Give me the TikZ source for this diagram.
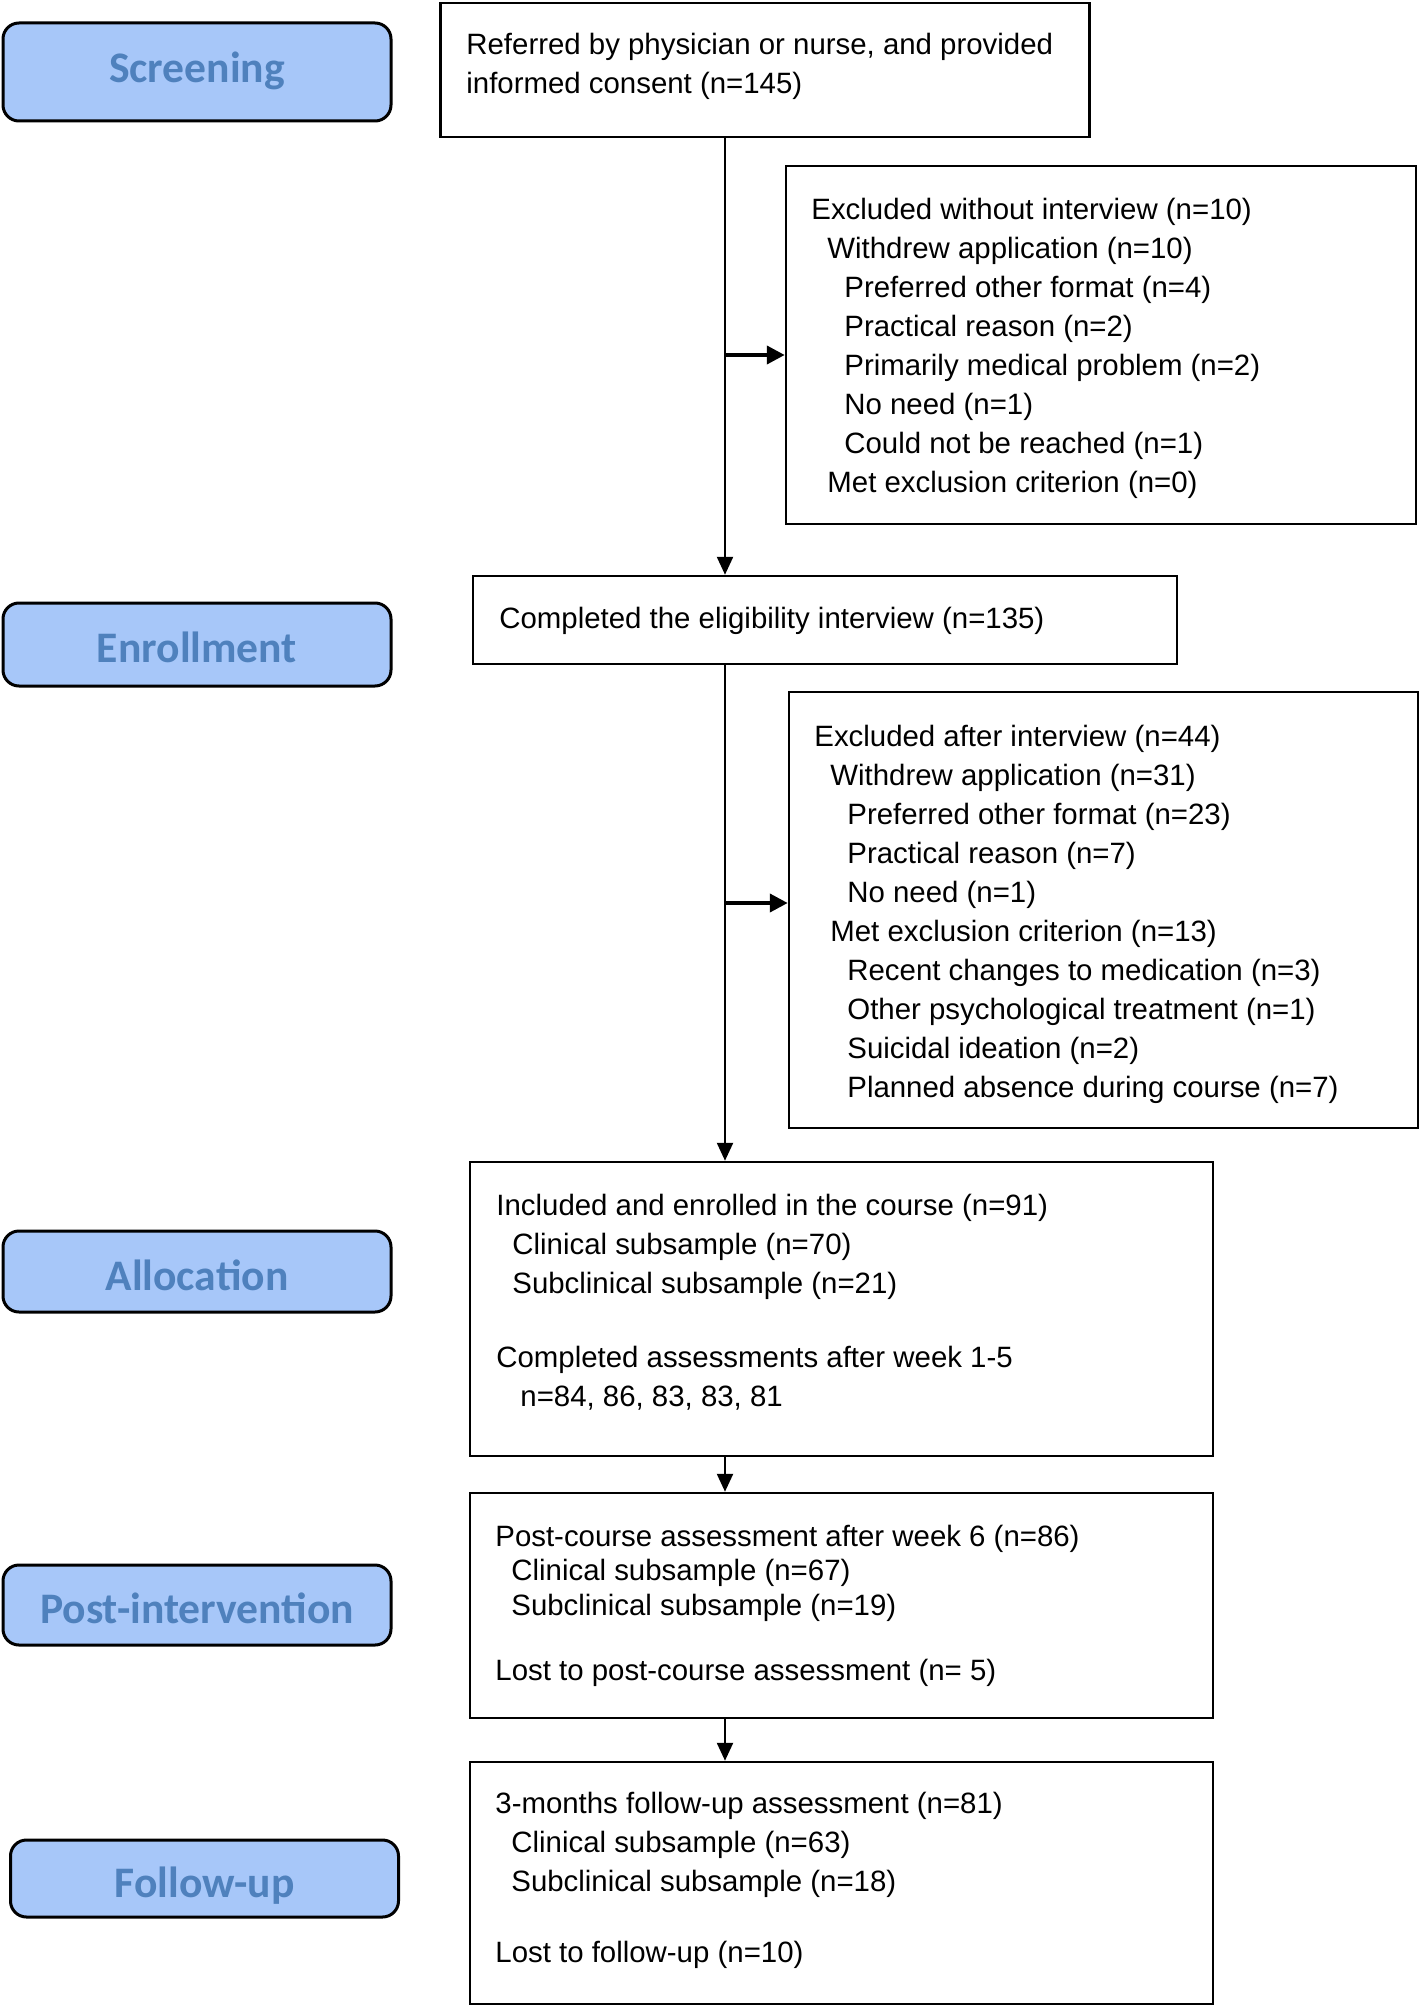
\documentclass[tikz,border=0pt]{standalone}
\usepackage{fontspec}
\setmainfont{Liberation Sans}
\newfontfamily\labfont{Carlito}
\usetikzlibrary{arrows.meta}
\definecolor{labfill}{RGB}{167,199,249}
\definecolor{labtext}{RGB}{79,129,189}
\newcommand{\lowerlab}[2]{\raisebox{-#1}[\height][\depth]{#2}}
\begin{document}
\begin{tikzpicture}[x=0.5pt,y=-0.5pt,
  box/.style={draw, line width=1.25pt, inner sep=0pt},
  lab/.style={draw, line width=1.5pt, rounded corners=8pt, fill=labfill, text=labtext,
    font=\labfont\bfseries\fontsize{21.8}{24}\selectfont, inner sep=0pt, minimum width=194pt},
  txt/.style={anchor=north west, align=left, inner sep=0pt, font=\fontsize{14.7}{19.5}\selectfont},
  arr/.style={line width=1.2pt, -{Triangle[length=9pt,width=8pt]}},
  sidearr/.style={line width=2pt, -{Triangle[length=9pt,width=9pt]}}]
\useasboundingbox (0,0) rectangle (1419,2006);

% stage labels
\node[lab, minimum height=49pt] (lscr) at (197,72) {\lowerlab{-0.6pt}{Screening}};
\node[lab, minimum height=41.5pt] (lenr) at (197,644.5) {\lowerlab{1.3pt}{Enrollment}};
\node[lab, minimum height=40.5pt] (lall) at (197,1271.5) {\lowerlab{1.9pt}{Allocation}};
\node[lab, minimum height=40pt] (lpost) at (197,1605) {\lowerlab{1.9pt}{Post-intervention}};
\node[lab, minimum height=38.5pt] (lfol) at (204.5,1878.5) {\lowerlab{3.6pt}{Follow-up}};

% boxes
\node[box, minimum width=324.5pt, minimum height=67pt] (b1) at (765,70) {};
\node[box, minimum width=315pt, minimum height=179pt] (ex1) at (1101,345) {};
\node[box, minimum width=352pt, minimum height=44pt] (b2) at (825,620) {};
\node[box, minimum width=314.5pt, minimum height=218pt] (ex2) at (1103.5,910) {};
\node[box, minimum width=371.5pt, minimum height=147pt] (b3) at (841.5,1309) {};
\node[box, minimum width=371.5pt, minimum height=112.5pt] (b4) at (841.5,1605.5) {};
\node[box, minimum width=371.5pt, minimum height=121pt] (b5) at (841.5,1883) {};

% texts
\node[txt] (t1) at (466,32.6) {Referred by physician or nurse, and provided\\informed consent (n=145)};
\node[txt] (te1) at (811,197.6) {Excluded without interview (n=10)\\
\hspace*{8pt}Withdrew application (n=10)\\
\hspace*{16.5pt}Preferred other format (n=4)\\
\hspace*{16.5pt}Practical reason (n=2)\\
\hspace*{16.5pt}Primarily medical problem (n=2)\\
\hspace*{16.5pt}No need (n=1)\\
\hspace*{16.5pt}Could not be reached (n=1)\\
\hspace*{8pt}Met exclusion criterion (n=0)};
\node[txt] (t2) at (499,607.1) {Completed the eligibility interview (n=135)};
\node[txt] (te2) at (814,724.6) {Excluded after interview (n=44)\\
\hspace*{8pt}Withdrew application (n=31)\\
\hspace*{16.5pt}Preferred other format (n=23)\\
\hspace*{16.5pt}Practical reason (n=7)\\
\hspace*{16.5pt}No need (n=1)\\
\hspace*{8pt}Met exclusion criterion (n=13)\\
\hspace*{16.5pt}Recent changes to medication (n=3)\\
\hspace*{16.5pt}Other psychological treatment (n=1)\\
\hspace*{16.5pt}Suicidal ideation (n=2)\\
\hspace*{16.5pt}Planned absence during course (n=7)};
\node[txt] (t3) at (496,1194.1) {Included and enrolled in the course (n=91)\\
\hspace*{8pt}Clinical subsample (n=70)\\
\hspace*{8pt}Subclinical subsample (n=21)\\[17.25pt]
Completed assessments after week 1-5\\
\hspace*{12pt}n=84, 86, 83, 83, 81};
\node[txt, font=\fontsize{14.7}{17.25}\selectfont] (t4) at (495,1524.6) {Post-course assessment after week 6 (n=86)\\
\hspace*{8pt}Clinical subsample (n=67)\\
\hspace*{8pt}Subclinical subsample (n=19)\\[15.25pt]
Lost to post-course assessment (n= 5)};
\node[txt] (t5) at (495,1792.1) {3-months follow-up assessment (n=81)\\
\hspace*{8pt}Clinical subsample (n=63)\\
\hspace*{8pt}Subclinical subsample (n=18)\\[16pt]
Lost to follow-up (n=10)};

% connectors
\coordinate (sp) at (725,0);
\coordinate (e1a) at ([yshift=-5pt]ex1.west);
\coordinate (e2a) at ([yshift=3.5pt]ex2.west);
\draw[arr] (b1.south -| sp) -- (b2.north -| sp);
\draw[sidearr] (e1a -| sp) -- (e1a);
\draw[arr] (b2.south -| sp) -- (b3.north -| sp);
\draw[sidearr] (e2a -| sp) -- (e2a);
\draw[arr] (b3.south -| sp) -- (b4.north -| sp);
\draw[arr] (b4.south -| sp) -- (b5.north -| sp);
\end{tikzpicture}
\end{document}
